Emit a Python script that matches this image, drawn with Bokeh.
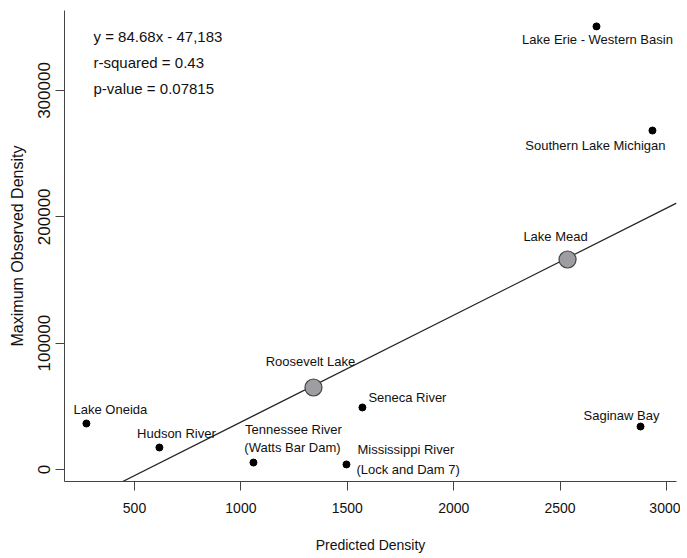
from bokeh.plotting import figure
from bokeh.models import Range1d, Label, FixedTicker, NumeralTickFormatter
from bokeh.embed import file_html
from bokeh.resources import INLINE

# ---- data ----
names = ["Lake Erie - Western Basin", "Southern Lake Michigan", "Lake Mead", "Roosevelt Lake",
         "Seneca River", "Tennessee River", "Mississippi River", "Saginaw Bay",
         "Lake Oneida", "Hudson River"]
pred = [2671, 2934, 2535, 1341, 1571, 1059, 1496, 2878, 274, 617]
obs = [350700, 268300, 166200, 64900, 49100, 5500, 4000, 34000, 36400, 17400]
highlight = [False, False, True, True, False, False, False, False, False, False]
slope = 84.68
intercept = -47183
stats_text = ["y = 84.68x - 47,183", "r-squared = 0.43", "p-value = 0.07815"]
x_ticks = [500, 1000, 1500, 2000, 2500, 3000]
y_ticks = [0, 100000, 200000, 300000]

X0, X1 = 171, 3047
Y0, Y1 = -9500, 363300
FONT = "Liberation Sans"

p = figure(width=680, height=558, output_backend="svg", toolbar_location=None,
           x_range=Range1d(X0, X1), y_range=Range1d(Y0, Y1),
           min_border_left=64, min_border_right=4, min_border_top=10, min_border_bottom=77)
p.outline_line_color = None
p.xgrid.visible = False
p.ygrid.visible = False
p.background_fill_color = "white"
p.border_fill_color = "white"

for ax in (p.xaxis[0], p.yaxis[0]):
    ax.axis_line_color = "#444444"
    ax.major_tick_line_color = "#444444"
    ax.major_tick_out = 9
    ax.major_tick_in = 0
    ax.minor_tick_line_color = None
    ax.major_label_text_font = FONT
    ax.major_label_text_color = "#111111"
    ax.axis_label_text_font = FONT
    ax.axis_label_text_font_style = "normal"
    ax.axis_label_text_color = "#111111"

p.xaxis.major_label_text_font_size = "14px"
p.yaxis.major_label_text_font_size = "17px"
p.xaxis.axis_label_text_font_size = "14px"
p.yaxis.axis_label_text_font_size = "16px"
p.xaxis.ticker = FixedTicker(ticks=x_ticks)
p.yaxis.ticker = FixedTicker(ticks=y_ticks)
p.yaxis.formatter = NumeralTickFormatter(format="0")
p.yaxis.major_label_orientation = "vertical"
p.xaxis.major_label_standoff = 12
p.yaxis.major_label_standoff = 5
p.xaxis.axis_label = "Predicted Density"
p.yaxis.axis_label = "Maximum Observed Density"
p.xaxis.axis_label_standoff = 21
p.yaxis.axis_label_standoff = 10

# regression line
p.line([X0, X1], [slope * X0 + intercept, slope * X1 + intercept], line_color="#222222", line_width=1.2)

# points
sx = [x for x, h in zip(pred, highlight) if not h]
sy = [y for y, h in zip(obs, highlight) if not h]
bx = [x for x, h in zip(pred, highlight) if h]
by = [y for y, h in zip(obs, highlight) if h]
p.scatter(sx, sy, size=7, fill_color="black", line_color="black")
p.scatter(bx, by, size=17, fill_color="#9e9ea2", line_color="#444444", line_width=1.2)

# point labels: (text line, align, x_offset, y_offset) per point
label_specs = {
    "Lake Erie - Western Basin": [("Lake Erie - Western Basin", "center", 1, -13)],
    "Southern Lake Michigan": [("Southern Lake Michigan", "center", -57, -15)],
    "Lake Mead": [("Lake Mead", "center", -12, 23)],
    "Roosevelt Lake": [("Roosevelt Lake", "center", -3, 26)],
    "Seneca River": [("Seneca River", "left", 6, 10)],
    "Tennessee River": [("Tennessee River", "center", 40, 33), ("(Watts Bar Dam)", "center", 39, 15)],
    "Mississippi River": [("Mississippi River", "left", 11, 15), ("(Lock and Dam 7)", "left", 10, -5)],
    "Saginaw Bay": [("Saginaw Bay", "center", -19, 11)],
    "Lake Oneida": [("Lake Oneida", "center", 24, 14)],
    "Hudson River": [("Hudson River", "center", 17, 14)],
}
for n, x, y in zip(names, pred, obs):
    for txt, align, xo, yo in label_specs[n]:
        p.add_layout(Label(x=x, y=y, x_offset=xo, y_offset=yo, text=txt,
                           text_align=align, text_baseline="middle",
                           text_font=FONT, text_font_size="13px", text_color="#111111"))

# stats text
for i, t in enumerate(stats_text):
    p.add_layout(Label(x=29, y=445 - 26 * i, x_units="screen", y_units="screen", text=t,
                       text_align="left", text_baseline="middle",
                       text_font=FONT, text_font_size="15px", text_color="#111111"))

open("out.html", "w").write(file_html(p, INLINE))
